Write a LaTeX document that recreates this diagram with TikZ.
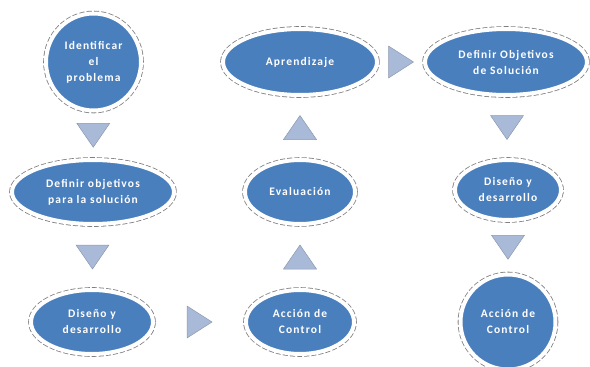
\documentclass[tikz,border=0pt]{standalone}
\usepackage{fontspec}
\newfontfamily\bubfont[LetterSpace=10]{Carlito}
\usetikzlibrary{shapes.geometric,calc}

\definecolor{bblue}{HTML}{4A7FBE}
\definecolor{ringgray}{HTML}{7F7F7F}
\definecolor{triblue}{HTML}{A9B9D8}
\definecolor{trigray}{HTML}{8D99AE}

\tikzset{
  bub/.style={ellipse, fill=bblue, draw=white, line width=4pt, outer sep=0pt,
              preaction={draw=ringgray, dash pattern=on 5pt off 2pt, line width=5.6pt},
              inner sep=0pt, text=white, align=center,
              font=\bubfont\bfseries\fontsize{11.5}{16}\selectfont},
  tri/.style={fill=triblue, draw=trigray, line width=0.5pt}
}

\begin{document}
\begin{tikzpicture}[x=1pt, y=-1pt]
  \useasboundingbox (0,0) rectangle (590,367);
  \clip (0,0) rectangle (590,367);

  % left column
  \node [bub, minimum width=95, minimum height=97] (ident) at (93.5,62) {Identificar\\el\\problema};
  \node [bub, minimum width=162, minimum height=64] (objizq) at (93,192) {Definir objetivos\\para la soluci\'on};
  \node [bub, minimum width=122, minimum height=64] (disizq) at (92,322) {Dise\~no y\\desarrollo};

  % middle column
  \node [bub, minimum width=108, minimum height=64] (accmed) at (300,322) {Acci\'on de\\Control};
  \node [bub, minimum width=110, minimum height=64] (eval) at (300,192) {Evaluaci\'on};
  \node [bub, minimum width=154, minimum height=66] (apren) at (300,62) {Aprendizaje};

  % right column
  \node [bub, minimum width=162, minimum height=66] (objder) at (506,62) {Definir Objetivos\\de Soluci\'on};
  \node [bub, minimum width=106, minimum height=60] (disder) at (508,190) {Dise\~no y\\desarrollo};
  \node [bub, minimum width=95, minimum height=95] (accder) at (508,322) {Acci\'on de\\Control};

  % triangles between the steps
  \coordinate (t1) at ($(ident.south)!0.5!(objizq.north)$);
  \coordinate (t2) at ($(objizq.south)!0.5!(disizq.north)$);
  \coordinate (t3) at ($(disizq.east)!0.5!(accmed.west)$);
  \coordinate (t4) at ($(accmed.north)!0.5!(eval.south)$);
  \coordinate (t5) at ($(eval.north)!0.5!(apren.south)$);
  \coordinate (t6) at ($(apren.east)!0.5!(objder.west)$);
  \coordinate (t7) at ($(objder.south)!0.5!(disder.north)$);
  \coordinate (t8) at ($(disder.south)!0.5!(accder.north)$);

  \foreach \t in {t1,t2,t7,t8}
    \draw [tri] ($(\t)+(-16.5,-12)$) -- ($(\t)+(16.5,-12)$) -- ($(\t)+(0,12)$) -- cycle;
  \foreach \t in {t4,t5}
    \draw [tri] ($(\t)+(-16.5,12)$) -- ($(\t)+(16.5,12)$) -- ($(\t)+(0,-12)$) -- cycle;
  \foreach \t in {t3,t6}
    \draw [tri] ($(\t)+(-12.5,-16)$) -- ($(\t)+(-12.5,16)$) -- ($(\t)+(12.5,0)$) -- cycle;
\end{tikzpicture}
\end{document}
